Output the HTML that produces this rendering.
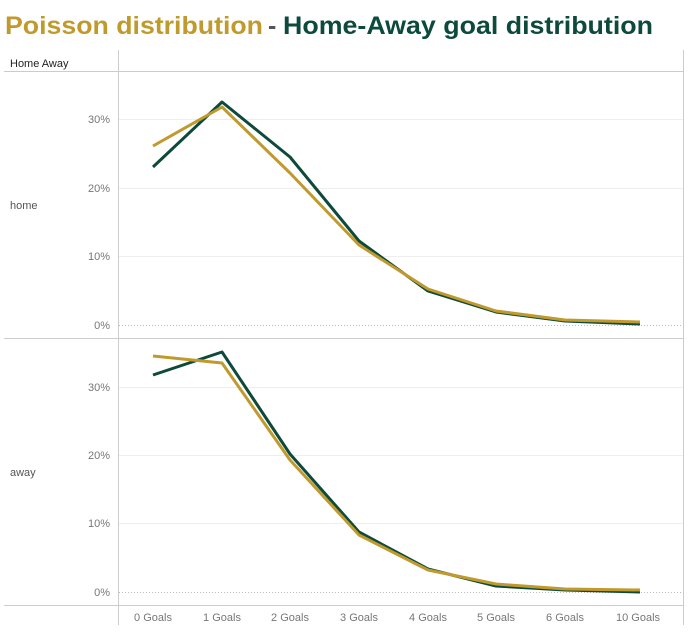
<!DOCTYPE html>
<html><head><meta charset="utf-8"><style>
html,body{margin:0;padding:0;background:#fff;width:690px;height:635px;overflow:hidden}
svg text{font-family:"Liberation Sans",sans-serif}
</style></head><body>
<svg width="690" height="635" viewBox="0 0 690 635" xmlns="http://www.w3.org/2000/svg">
<text x="5" y="34" font-size="25" font-weight="bold" fill="#c09a2d" textLength="258" lengthAdjust="spacingAndGlyphs">Poisson distribution</text>
<text x="268" y="34" font-size="25" font-weight="bold" fill="#555">-</text>
<text x="283" y="34" font-size="25" font-weight="bold" fill="#0d4a3c" textLength="370" lengthAdjust="spacingAndGlyphs">Home-Away goal distribution</text>
<text x="10" y="67" font-size="11" fill="#222">Home Away</text>
<g stroke="#ccc" stroke-width="1" fill="none">
<line x1="118.5" y1="50" x2="118.5" y2="625"/>
<line x1="683.5" y1="50" x2="683.5" y2="625"/>
<line x1="4" y1="71.5" x2="684" y2="71.5"/>
<line x1="4" y1="338.5" x2="684" y2="338.5"/>
<line x1="4" y1="605.5" x2="684" y2="605.5"/>
</g>
<g stroke="#eee" stroke-width="1">
<line x1="119" y1="119.5" x2="683" y2="119.5"/><line x1="119" y1="188.5" x2="683" y2="188.5"/><line x1="119" y1="256.5" x2="683" y2="256.5"/>
<line x1="119" y1="387.5" x2="683" y2="387.5"/><line x1="119" y1="455.5" x2="683" y2="455.5"/><line x1="119" y1="523.5" x2="683" y2="523.5"/>
</g>
<g stroke="#bbb" stroke-width="1" stroke-dasharray="1,2">
<line x1="119" y1="325.5" x2="683" y2="325.5"/><line x1="119" y1="592.5" x2="683" y2="592.5"/>
</g>
<g font-size="11" fill="#777" text-anchor="end">
<text x="110" y="123">30%</text><text x="110" y="192">20%</text><text x="110" y="260">10%</text><text x="110" y="329">0%</text>
<text x="110" y="391">30%</text><text x="110" y="459">20%</text><text x="110" y="527">10%</text><text x="110" y="596">0%</text>
</g>
<text x="10" y="209" font-size="11" fill="#555">home</text>
<text x="10" y="476" font-size="11" fill="#555">away</text>
<g font-size="11" fill="#777" text-anchor="middle">
<text x="153" y="621">0 Goals</text><text x="222" y="621">1 Goals</text><text x="290" y="621">2 Goals</text><text x="359" y="621">3 Goals</text>
<text x="428" y="621">4 Goals</text><text x="496" y="621">5 Goals</text><text x="565" y="621">6 Goals</text><text x="638" y="621">10 Goals</text>
</g>
<g fill="none" stroke-width="3" stroke-linejoin="round">
<polyline stroke="#0d4a3c" points="153,167 222,102 290,157 359,241 428,291 496,312 565,321 640,324"/>
<polyline stroke="#c09a2d" points="153,146 222,107 290,173 359,245 428,289 496,311 565,320 640,322"/>
<polyline stroke="#0d4a3c" points="153,375 222,352 290,454 359,532 428,569 496,586 565,590 640,592"/>
<polyline stroke="#c09a2d" points="153,356 222,363 290,460 359,535 428,570 496,584 565,589 640,590"/>
</g>
</svg>
</body></html>
